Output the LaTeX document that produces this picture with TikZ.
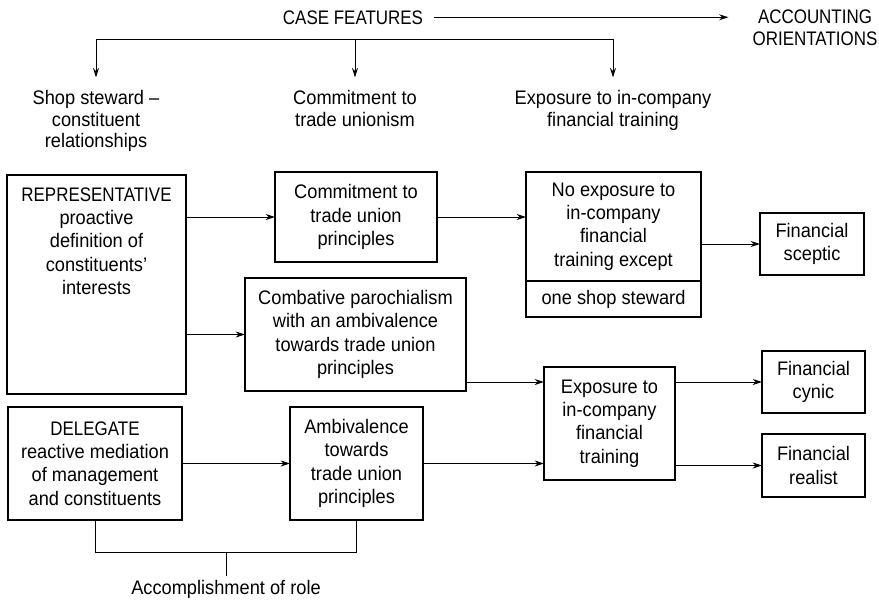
\documentclass[tikz,border=0pt]{standalone}
\usepackage{fontspec}
\setmainfont{Liberation Sans}[FakeStretch=0.93]
\newfontfamily\mycapsfont{Liberation Sans}[FakeStretch=0.865]
\usetikzlibrary{arrows.meta}
\newcommand\myboxfont{\fontsize{14.7pt}{17.5pt}\selectfont}
\newcommand\myheadfont{\fontsize{14.7pt}{16.3pt}\selectfont}
\tikzset{
  box/.style={draw, line width=1.1pt, align=center, inner sep=0pt, outer sep=0pt, font=\myboxfont},
  sz/.style 2 args={minimum width=#1*0.75pt, minimum height=#2*0.75pt},
  lbl/.style={align=center, inner sep=0pt, font=\myheadfont},
  arr/.style={-{Stealth[length=7pt,width=4.5pt]}, line width=0.7pt},
  ln/.style={line width=0.7pt}
}
\begin{document}
\begin{tikzpicture}[x=0.75pt,y=-0.75pt]
\useasboundingbox (0,0) rectangle (879,601);

% top labels
\node[lbl, anchor=base] (cf) at (353,24) {\mycapsfont CASE FEATURES};
\node[lbl, anchor=north] (acc) at (815,10) {\mycapsfont ACCOUNTING\\\mycapsfont ORIENTATIONS};
\draw[arr, shorten <=8pt, shorten >=18pt] (cf.east) -- (cf.east -| acc.west);

% headings
\node[lbl, anchor=north] (h1) at (96,90) {Shop steward –\\constituent\\relationships};
\node[lbl, anchor=north] (h2) at (355,90) {Commitment to\\trade unionism};
\node[lbl, anchor=north] (h3) at (613,90) {Exposure to in-company\\financial training};
\coordinate (bar) at (0,39);
\draw[ln] (h1.north |- bar) -- (h3.north |- bar);
\foreach \h in {h1,h2,h3}
  \draw[arr, shorten >=9.5pt] (\h.north |- bar) -- (\h.north);

% boxes
\node[box, sz={179}{219}] (rep) at (96.5,284.5)
  {\parbox[c][164.25pt][t]{130pt}{\centering\rule{0pt}{19.5pt}{\mycapsfont REPRESENTATIVE}\\proactive\\definition of\\constituents'\\interests}};
\node[box, sz={162}{90}] (commit) at (356,217) {Commitment to\\trade union\\principles};
\node[box, sz={221}{113}] (comb) at (355.5,334.5) {Combative parochialism\\with an ambivalence\\towards trade union\\principles};
\node[box, sz={175}{109}] (noexpA) at (613.5,226.5) {No exposure to\\in-company\\financial\\training except};
\node[box, sz={175}{36}] (noexpB) at (613.5,299) {one shop steward};
\node[box, sz={104}{62}] (sceptic) at (812,244) {Financial\\sceptic};
\node[box, sz={131}{113}] (expo) at (609.5,423.5) {Exposure to\\in-company\\financial\\training};
\node[box, sz={103}{62}] (cynic) at (813.5,382) {Financial\\cynic};
\node[box, sz={103}{63}] (realist) at (813.5,465.5) {Financial\\realist};
\node[box, sz={174}{113}] (deleg) at (95,463.5) {{\mycapsfont DELEGATE}\\reactive mediation\\of management\\and constituents};
\node[box, sz={133}{113}] (ambiv) at (356.5,463.5) {Ambivalence\\towards\\trade union\\principles};

% connectors
\draw[arr] (rep.east |- commit.west) -- (commit.west);
\draw[arr] (rep.east |- comb.west) -- (comb.west);
\draw[arr] (commit.east) -- (commit.east -| noexpA.west);
\draw[arr] (sceptic.west -| noexpA.east) -- (sceptic.west);
\draw[arr] (comb.east |- cynic.west) -- (expo.west |- cynic.west);
\draw[arr] (expo.east |- cynic.west) -- (cynic.west);
\draw[arr] (expo.east |- realist.west) -- (realist.west);
\draw[arr] (ambiv.east) -- (ambiv.east -| expo.west);
\draw[arr] (deleg.east) -- (ambiv.west);

% bottom bracket
\node[lbl] (role) at (226,589) {Accomplishment of role};
\coordinate (bar2) at (0,552);
\draw[ln] (deleg.south) -- (deleg.south |- bar2) -- (ambiv.south |- bar2) -- (ambiv.south);
\draw[ln, shorten >=3pt] (role.north |- bar2) -- (role.north);
\end{tikzpicture}
\end{document}
